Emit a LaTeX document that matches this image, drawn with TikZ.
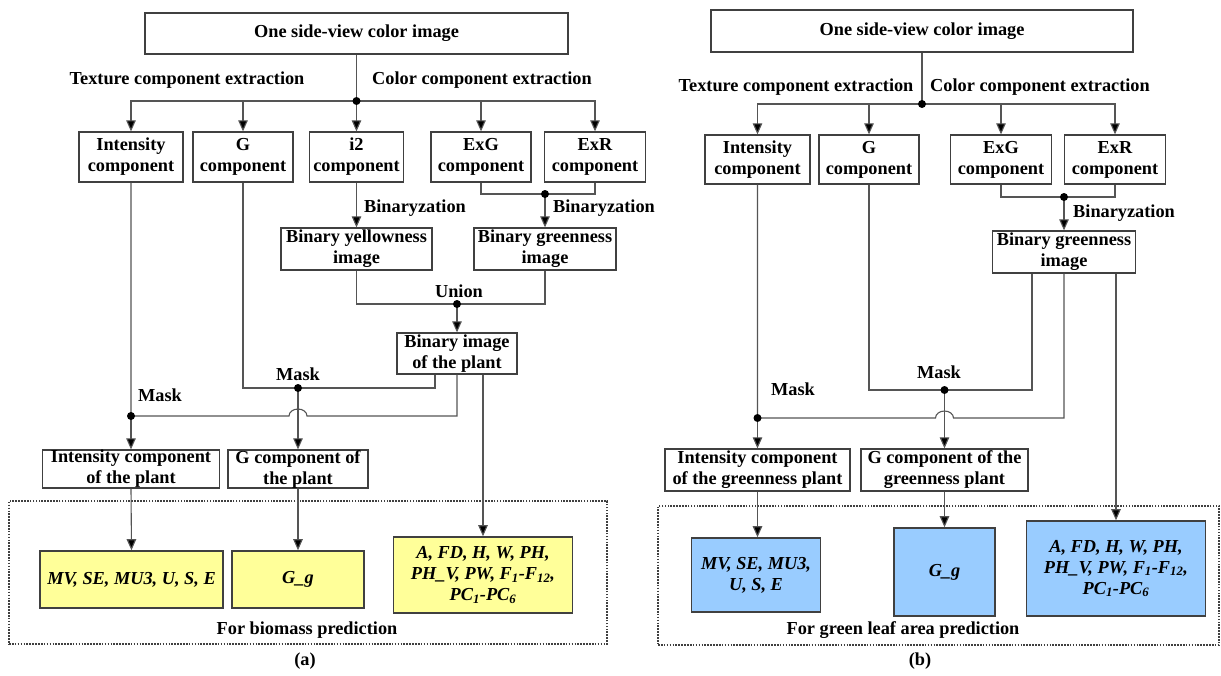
\documentclass[tikz,border=0pt]{standalone}
\usepackage{fontspec}
\setmainfont{Liberation Serif}
\usetikzlibrary{arrows.meta,calc}
\definecolor{boxc}{HTML}{404040}
\definecolor{linec}{HTML}{555555}
\definecolor{yel}{HTML}{FFFF99}
\definecolor{blu}{HTML}{99CCFF}
\begin{document}
\begin{tikzpicture}[x=1pt,y=-1pt,
  bx/.style={draw=boxc,line width=1.3pt,fill=white,align=center,inner sep=0pt,font=\fontsize{18.3}{21}\selectfont\bfseries},
  fb/.style={bx,line width=1.6pt,font=\fontsize{18.3}{21}\selectfont\bfseries\itshape},
  lbl/.style={inner sep=0pt,font=\fontsize{18.3}{21}\selectfont\bfseries},
  ln/.style={draw=linec,line width=1.1pt},
  arr/.style={ln,-{Triangle[length=11pt,width=9.5pt,fill=black]}},
  frm/.style={draw=boxc,line width=1.1pt,dash pattern=on 1.6pt off 1.3pt,inner sep=0pt},
  dotc/.style={fill=black}
]
\useasboundingbox[fill=white] (0,0) rectangle (1221,675);

% ================= Panel (a) =================
\node[frm,minimum width=598pt,minimum height=143pt] (frameA) at (308,572.5) {};
\node[bx,minimum width=423pt,minimum height=41pt] (topA) at (356.5,33.5) {One side-view color image};
\node[lbl] (texA) at (187,80) {Texture component extraction};
\node[lbl] (colA) at (482,80) {Color component extraction};
\node[bx,minimum width=104pt,minimum height=50pt] (intA) at (131,157) {Intensity\\component};
\node[bx,minimum width=100pt,minimum height=50pt] (gA) at (243,157) {G\\component};
\node[bx,minimum width=94pt,minimum height=50pt] (i2A) at (356.5,157) {i2\\component};
\node[bx,minimum width=100pt,minimum height=50pt] (exgA) at (481,157) {ExG\\component};
\node[bx,minimum width=101pt,minimum height=50pt] (exrA) at (595,157) {ExR\\component};
\node[lbl,anchor=west] (bz1A) at (364,208) {Binaryzation};
\node[lbl,anchor=west] (bz2A) at (553,208) {Binaryzation};
\node[bx,minimum width=151pt,minimum height=42pt] (bylA) at (356.5,249) {Binary yellowness\\image};
\node[bx,minimum width=142pt,minimum height=42pt] (bgrA) at (545,249) {Binary greenness\\image};
\node[lbl] (unA) at (459,291) {Union};
\node[bx,minimum width=120pt,minimum height=41pt] (binA) at (457,353.5) {Binary image\\of the plant};
\node[lbl] (mk1A) at (298,374) {Mask};
\node[lbl] (mk2A) at (160,395) {Mask};
\node[bx,minimum width=177pt,minimum height=38pt] (intPA) at (131,469) {Intensity component\\of the plant};
\node[bx,minimum width=140pt,minimum height=38pt] (gPA) at (298,469) {G component of\\the plant};
\node[fb,fill=yel,minimum width=183pt,minimum height=57pt] (mvA) at (131.5,579.5) {MV, SE, MU3, U, S, E};
\node[fb,fill=yel,minimum width=132pt,minimum height=57pt] (ggA) at (298,579.5) {G\_g};
\node[fb,fill=yel,minimum width=179pt,minimum height=76pt] (bigA) at (483,575) {A, FD, H, W, PH,\\PH\_V, PW, F\textsubscript{1}-F\textsubscript{12},\\PC\textsubscript{1}-PC\textsubscript{6}};
\node[lbl] (forA) at (307,630) {For biomass prediction};
\node[lbl] (capA) at (305,661) {(a)};

\coordinate (jA0) at (356.5,101);
\coordinate (jA1) at (545,194);
\coordinate (jA2) at (457,304);
\coordinate (jA3) at (298,388);
\coordinate (jA4) at (131,416);
\coordinate (bA1) at ([xshift=-22pt]binA.south);
\coordinate (bA2) at (binA.south);
\coordinate (bA3) at ([xshift=26pt]binA.south);
\coordinate (hA1) at (289,416);

\draw[ln] (topA.south) -- (jA0);
\draw[arr] (jA0) -| (intA.north);
\draw[arr] (jA0) -| (gA.north);
\draw[arr] (jA0) -- (i2A.north);
\draw[arr] (jA0) -| (exgA.north);
\draw[arr] (jA0) -| (exrA.north);
\draw[ln] (exgA.south) |- (jA1) -| (exrA.south);
\draw[arr] (jA1) -- (bgrA.north);
\draw[arr] (i2A.south) -- (bylA.north);
\draw[ln] (bylA.south) |- (jA2) -| (bgrA.south);
\draw[arr] (jA2) -- (binA.north);
\draw[ln] (gA.south) |- (jA3) -| (bA1);
\draw[arr] (jA3) -- (gPA.north);
\draw[ln] (intA.south) -- (jA4) -- (hA1) arc[start angle=180,end angle=0,x radius=9pt,y radius=7pt] -- (bA2 |- jA4) -- (bA2);
\draw[arr] (jA4) -- (intPA.north);
\draw[arr] (intPA.south) -- (mvA.north);
\draw[arr] (gPA.south) -- (ggA.north);
\draw[arr] (bA3) -- (bigA.north);
\foreach \p in {jA0,jA1,jA2,jA3,jA4} \fill[dotc] (\p) circle (4pt);

% ================= Panel (b) =================
\node[frm,minimum width=561pt,minimum height=139pt] (frameB) at (938.5,575.5) {};
\node[bx,minimum width=422pt,minimum height=42pt] (topB) at (922,31) {One side-view color image};
\node[lbl] (texB) at (796,87) {Texture component extraction};
\node[lbl] (colB) at (1040,87) {Color component extraction};
\node[bx,minimum width=105pt,minimum height=49pt] (intB) at (757.5,159.5) {Intensity\\component};
\node[bx,minimum width=100pt,minimum height=49pt] (gB) at (869,159.5) {G\\component};
\node[bx,minimum width=101pt,minimum height=49pt] (exgB) at (1001,159.5) {ExG\\component};
\node[bx,minimum width=101pt,minimum height=49pt] (exrB) at (1115,159.5) {ExR\\component};
\node[lbl,anchor=west] (bzB) at (1073,213) {Binaryzation};
\node[bx,minimum width=143pt,minimum height=42pt] (bgrB) at (1064,252) {Binary greenness\\image};
\node[lbl] (mk1B) at (939,372) {Mask};
\node[lbl] (mk2B) at (793,389) {Mask};
\node[bx,minimum width=185pt,minimum height=42pt] (intPB) at (757.5,470) {Intensity component\\of the greenness plant};
\node[bx,minimum width=167pt,minimum height=42pt] (gPB) at (944.5,470) {G component of the\\greenness plant};
\node[fb,fill=blu,minimum width=129pt,minimum height=74pt] (mvB) at (756,575) {MV, SE, MU3,\\U, S, E};
\node[fb,fill=blu,minimum width=101pt,minimum height=88pt] (ggB) at (944.5,572) {G\_g};
\node[fb,fill=blu,minimum width=179pt,minimum height=95pt] (bigB) at (1116,568.5) {A, FD, H, W, PH,\\PH\_V, PW, F\textsubscript{1}-F\textsubscript{12},\\PC\textsubscript{1}-PC\textsubscript{6}};
\node[lbl] (forB) at (903,630) {For green leaf area prediction};
\node[lbl] (capB) at (920,661) {(b)};

\coordinate (jB0) at (922,104);
\coordinate (jB1) at (1064,197);
\coordinate (jB3) at (944.5,390);
\coordinate (jB4) at (757.5,418);
\coordinate (bB1) at ([xshift=-32pt]bgrB.south);
\coordinate (bB2) at (bgrB.south);
\coordinate (bB3) at ([xshift=52pt]bgrB.south);
\coordinate (hB1) at (935.5,418);

\draw[ln] (topB.south) -- (jB0);
\draw[arr] (jB0) -| (intB.north);
\draw[arr] (jB0) -| (gB.north);
\draw[arr] (jB0) -| (exgB.north);
\draw[arr] (jB0) -| (exrB.north);
\draw[ln] (exgB.south) |- (jB1) -| (exrB.south);
\draw[arr] (jB1) -- (bgrB.north);
\draw[ln] (gB.south) |- (jB3) -| (bB1);
\draw[arr] (jB3) -- (gPB.north);
\draw[ln] (intB.south) -- (jB4) -- (hB1) arc[start angle=180,end angle=0,x radius=9pt,y radius=7pt] -- (bB2 |- jB4) -- (bB2);
\draw[arr] (jB4) -- (intPB.north);
\draw[arr] (intPB.south) -- (intPB.south |- mvB.north);
\draw[arr] (gPB.south) -- (ggB.north);
\draw[arr] (bB3) -- (bB3 |- bigB.north);
\foreach \p in {jB0,jB1,jB3,jB4} \fill[dotc] (\p) circle (4pt);
\end{tikzpicture}
\end{document}
